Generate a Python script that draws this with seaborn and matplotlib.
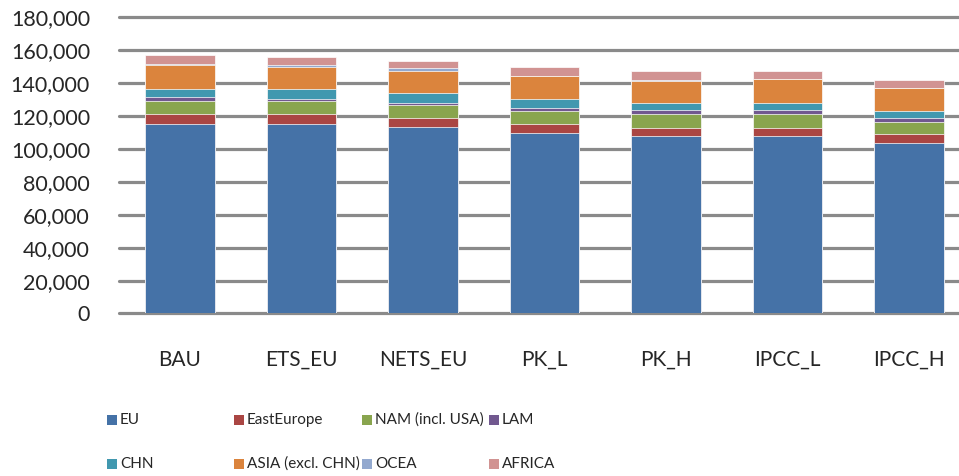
import numpy as np
import seaborn as sns
import matplotlib.pyplot as plt
from matplotlib.patches import Rectangle
from matplotlib.ticker import FuncFormatter

# escenarios y regiones (en unidades)
escenarios = ['BAU', 'ETS_EU', 'NETS_EU', 'PK_L', 'PK_H', 'IPCC_L', 'IPCC_H']
regiones = ['EU', 'EastEurope', 'NAM (incl. USA)', 'LAM',
            'CHN', 'ASIA (excl. CHN)', 'OCEA', 'AFRICA']

eu = [115500, 115500, 113300, 109600, 108200, 108200, 103500]
east_europe = [5700, 5700, 5600, 5900, 4800, 4800, 5900]
nam = [8100, 8100, 8100, 7900, 8400, 8400, 7300]
lam = [2200, 1000, 1200, 1400, 2200, 2200, 2000]
chn = [4900, 6100, 5700, 5500, 4400, 4400, 4700]
asia = [14800, 13700, 13800, 13800, 13400, 14400, 13500]
ocea = [400, 1200, 1400, 400, 400, 400, 400]
africa = [5600, 4700, 4700, 5600, 5900, 4900, 4700]

series = [eu, east_europe, nam, lam, chn, asia, ocea, africa]
colores = ['#4572A7', '#AA4643', '#89A54E', '#71588F',
           '#4198AF', '#DB843D', '#93A9CF', '#D19392']

sns.set_style('white')
plt.rcParams['font.family'] = ['Lato', 'DejaVu Sans']

fig = plt.figure(figsize=(9.59, 4.76), dpi=100)
ax = fig.add_axes([0.1243, 0.3414, 0.8869, 0.622])

# barras apiladas: se dibujan los acumulados de arriba hacia abajo
acumulado = np.cumsum(np.array(series), axis=0)
for i in reversed(range(len(series))):
    sns.barplot(x=escenarios, y=acumulado[i], color=colores[i], saturation=1,
                width=0.57, edgecolor='white', linewidth=0.5, ax=ax, zorder=3)

ax.set_ylim(0, 180000)
ax.set_yticks(np.arange(0, 180001, 20000))
ax.yaxis.set_major_formatter(FuncFormatter(lambda v, p: f'{v:,.0f}'))
ax.grid(axis='y', color='#8a8a8a', linewidth=2.3)
ax.set_axisbelow(True)
for linea in ax.get_ygridlines():
    linea.set_clip_on(False)
for lado in ax.spines.values():
    lado.set_visible(False)
ax.tick_params(axis='y', length=3, width=2.3, color='#8a8a8a', pad=18, labelsize=15.5)
ax.tick_params(axis='x', length=0, pad=26, labelsize=15)
ax.set_xlabel('')
ax.set_ylabel('')

# leyenda manual en dos filas
W, H = 959, 476
col_x = [107, 234, 362, 489]
fila_y = [420, 464]
for k, (nombre, c) in enumerate(zip(regiones, colores)):
    fila, col = divmod(k, 4)
    x0, y0 = col_x[col], fila_y[fila]
    fig.patches.append(Rectangle((x0 / W, 1 - (y0 + 5) / H), 10 / W, 10 / H,
                                 transform=fig.transFigure, facecolor=c,
                                 edgecolor='none'))
    fig.text((x0 + 13) / W, 1 - y0 / H, nombre, fontsize=11, va='center', ha='left')

plt.savefig('out.png', dpi=100)
